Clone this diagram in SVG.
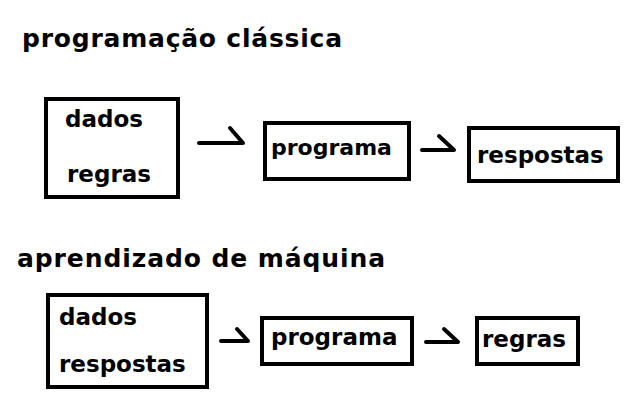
<svg xmlns="http://www.w3.org/2000/svg" width="640" height="400" viewBox="0 0 640 400">
<style>
text{font-family:"DejaVu Sans",sans-serif;font-weight:bold;fill:#000}
.t{font-size:25px}
.n{font-size:23px}
.box{fill:#fff;stroke:#000;stroke-width:4}
.c path{fill:none;stroke:#000;stroke-width:4;stroke-linecap:round;stroke-linejoin:round}
</style>
<rect x="0" y="0" width="640" height="400" fill="#fff"/>
<text class="t" x="22" y="47" textLength="320" lengthAdjust="spacing">programação clássica</text>
<text class="t" x="17" y="267" textLength="368" lengthAdjust="spacing">aprendizado de máquina</text>
<g id="c-dados-regras">
<rect class="box" x="46" y="99" width="132" height="98"/>
<text class="n" x="65" y="127">dados</text>
<text class="n" x="67" y="182">regras</text>
</g>
<g id="c-programa">
<rect class="box" x="265" y="123" width="144" height="56"/>
<text class="n" x="271" y="155" style="font-size:22px">programa</text>
</g>
<g id="c-respostas">
<rect class="box" x="469" y="128" width="149" height="53"/>
<text class="n" x="477" y="163">respostas</text>
</g>
<g id="m-dados-respostas">
<rect class="box" x="48" y="295" width="159" height="92"/>
<text class="n" x="59" y="325">dados</text>
<text class="n" x="59" y="372">respostas</text>
</g>
<g id="m-programa">
<rect class="box" x="262" y="318" width="150" height="46"/>
<text class="n" x="271" y="345">programa</text>
</g>
<g id="m-regras">
<rect class="box" x="477" y="318" width="101" height="46"/>
<text class="n" x="482" y="347">regras</text>
</g>
<g class="c" id="connectors">
<path d="M199 143H243L230 128"/>
<path d="M422 150H454L439 136"/>
<path d="M221 341H248L237 329"/>
<path d="M426 342H458L444 329"/>
</g>
</svg>
